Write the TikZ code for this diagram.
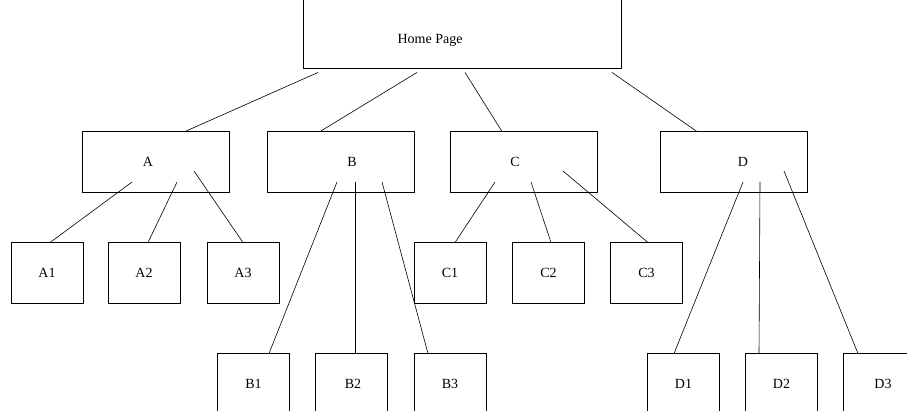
\documentclass[tikz,border=0pt]{standalone}
\usepackage{fontspec}
\setmainfont{Liberation Serif}
\usepackage{tikz}

\tikzset{
	page/.style={draw, line width=0.9pt, minimum width=147pt, minimum height=61pt, inner sep=0pt},
	leaf/.style={draw, line width=0.9pt, minimum width=72pt, minimum height=61pt, inner sep=0pt},
	link/.style={line width=0.6pt}
}

\begin{document}
\begin{tikzpicture}[x=1pt, y=-1pt, font=\fontsize{14}{16}\selectfont]
	
	\clip (0,0) rectangle (907,411);
	\fill[white] (0,0) rectangle (907,411);
	
	% top level
	\node[page, minimum width=318pt, minimum height=80pt, label={[xshift=-32pt, yshift=-12pt]center:Home Page}] (home) at (462,28) {};
	
	% second level
	\node[page, label={[xshift=-7.5pt]center:A}] (A) at (155.5,161.5) {};
	\node[page, label={[xshift=11.5pt]center:B}] (B) at (340.5,161.5) {};
	\node[page, label={[xshift=-9pt]center:C}] (C) at (524,161.5) {};
	\node[page, label={[xshift=9.5pt]center:D}] (D) at (733.5,161.5) {};
	
	% third level
	\node[leaf] (A1) at (47,272.5) {A1};
	\node[leaf] (A2) at (144,272.5) {A2};
	\node[leaf] (A3) at (243,272.5) {A3};
	\node[leaf] (C1) at (450,272.5) {C1};
	\node[leaf] (C2) at (548.5,272.5) {C2};
	\node[leaf] (C3) at (646.5,272.5) {C3};
	
	% fourth level
	\node[leaf] (B1) at (253.5,383.5) {B1};
	\node[leaf, label={[xshift=1.5pt]center:B2}] (B2) at (351.5,383.5) {};
	\node[leaf] (B3) at (450,383.5) {B3};
	\node[leaf] (D1) at (683.5,383.5) {D1};
	\node[leaf] (D2) at (781.5,383.5) {D2};
	\node[leaf, label={[xshift=4pt]center:D3}] (D3) at (879,383.5) {};
	
	% home page links
	\draw[link] ([shift={(-144,4)}]home.south) -- ([shift={(29.5,1)}]A.north);
	\draw[link] ([shift={(-45,4)}]home.south) -- ([shift={(-20.5,1)}]B.north);
	\draw[link] ([shift={(3,4)}]home.south) -- ([shift={(-22,1)}]C.north);
	\draw[link] ([shift={(150,4)}]home.south) -- ([shift={(-36.5,1)}]D.north);
	
	% A links
	\draw[link] ([shift={(-23.5,20.5)}]A.center) -- ([shift={(3,1)}]A1.north);
	\draw[link] ([shift={(21.5,20.5)}]A.center) -- ([shift={(4,1)}]A2.north);
	\draw[link] ([shift={(38.5,9.5)}]A.center) -- ([shift={(0,1)}]A3.north);
	
	% B links
	\draw[link] ([shift={(-3.5,20.5)}]B.center) -- ([shift={(15.5,1)}]B1.north);
	\draw[link] ([shift={(14.5,20.5)}]B.center) -- ([shift={(3.5,1)}]B2.north);
	\draw[link] ([shift={(41.5,20.5)}]B.center) -- ([shift={(-22,1)}]B3.north);
	
	% C links
	\draw[link] ([shift={(-29,20.5)}]C.center) -- ([shift={(5,1)}]C1.north);
	\draw[link] ([shift={(7,20.5)}]C.center) -- ([shift={(2.5,1)}]C2.north);
	\draw[link] ([shift={(39,9.5)}]C.center) -- ([shift={(1.5,1)}]C3.north);
	
	% D links
	\draw[link] ([shift={(9.5,20.5)}]D.center) -- ([shift={(-9.5,1)}]D1.north);
	\draw[link] ([shift={(26.5,20.5)}]D.center) -- ([shift={(-22.5,1)}]D2.north);
	\draw[link] ([shift={(50.5,9.5)}]D.center) -- ([shift={(-21,1)}]D3.north);

\end{tikzpicture}
\end{document}
